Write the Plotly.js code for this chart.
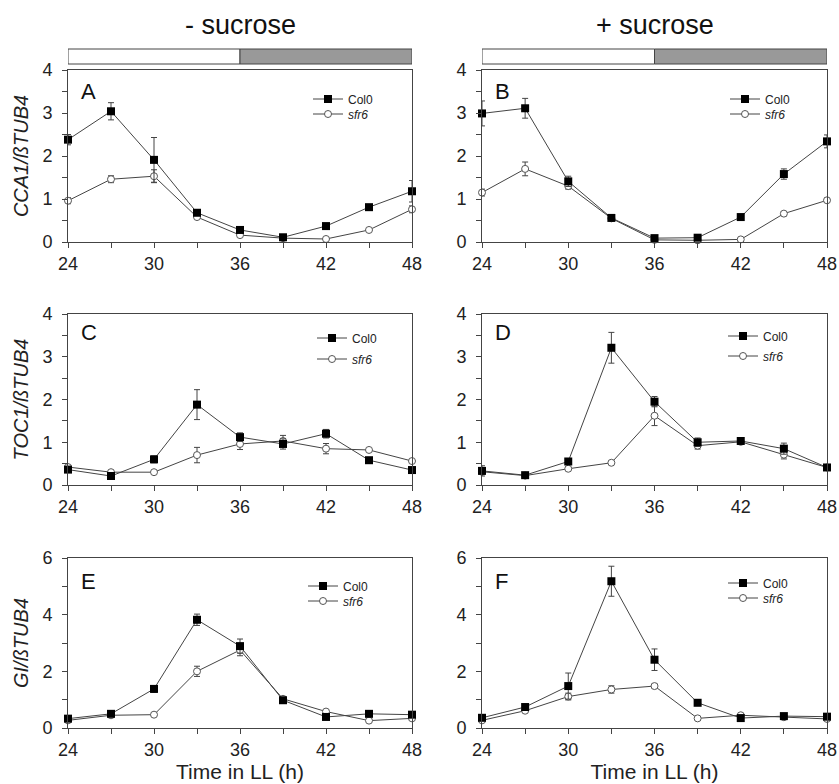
<!DOCTYPE html>
<html><head><meta charset="utf-8">
<script src="https://cdn.plot.ly/plotly-3.0.1.min.js"></script>
<style>html,body{margin:0;padding:0;background:#fff}</style>
</head><body><div id="chart" style="width:839px;height:784px"></div>
<script>
// ---------- data ----------
const time = [24, 27, 30, 33, 36, 39, 42, 45, 48];
const xTickLabels = ['24', '30', '36', '42', '48'];
const headings = ['- sucrose', '+ sucrose'];
const panelLabels = ['A', 'B', 'C', 'D', 'E', 'F'];
const yTitles = ['<i>CCA1/ßTUB4</i>', '', '<i>TOC1/ßTUB4</i>', '', '<i>GI/ßTUB4</i>', ''];
const xTitle = 'Time in LL (h)';
const seriesNames = ['Col0', '<i>sfr6</i>'];

// A: CCA1, - sucrose
const colA = [2.38, 3.04, 1.91, 0.68, 0.28, 0.11, 0.37, 0.81, 1.18];
const colAErr = [0.12, 0.20, 0.52, 0.05, 0.04, 0.03, 0.04, 0.04, 0.25];
const sfrA = [0.96, 1.46, 1.53, 0.58, 0.16, 0.09, 0.07, 0.28, 0.76];
const sfrAErr = [0.07, 0.08, 0.15, 0.04, 0.03, 0.02, 0.02, 0.03, 0.08];
// B: CCA1, + sucrose
const colB = [2.99, 3.11, 1.41, 0.56, 0.09, 0.10, 0.58, 1.58, 2.34];
const colBErr = [0.29, 0.23, 0.12, 0.04, 0.03, 0.03, 0.04, 0.12, 0.15];
const sfrB = [1.15, 1.70, 1.30, 0.55, 0.05, 0.04, 0.06, 0.66, 0.97];
const sfrBErr = [0.08, 0.16, 0.07, 0.03, 0.02, 0.02, 0.02, 0.05, 0.05];
// C: TOC1, - sucrose
const colC = [0.36, 0.21, 0.60, 1.88, 1.12, 0.96, 1.20, 0.58, 0.35];
const colCErr = [0.06, 0.04, 0.08, 0.35, 0.10, 0.12, 0.10, 0.04, 0.04];
const sfrC = [0.42, 0.30, 0.30, 0.70, 0.96, 1.03, 0.85, 0.82, 0.56];
const sfrCErr = [0.04, 0.03, 0.03, 0.18, 0.13, 0.13, 0.12, 0.03, 0.04];
// D: TOC1, + sucrose
const colD = [0.33, 0.23, 0.55, 3.21, 1.95, 1.00, 1.03, 0.85, 0.41];
const colDErr = [0.12, 0.03, 0.05, 0.36, 0.12, 0.10, 0.07, 0.13, 0.04];
const sfrD = [0.31, 0.22, 0.38, 0.52, 1.62, 0.92, 1.01, 0.71, 0.41];
const sfrDErr = [0.03, 0.03, 0.03, 0.03, 0.23, 0.08, 0.04, 0.10, 0.03];
// E: GI, - sucrose
const colE = [0.33, 0.50, 1.38, 3.82, 2.89, 0.98, 0.39, 0.50, 0.47];
const colEErr = [0.05, 0.05, 0.12, 0.20, 0.25, 0.06, 0.05, 0.05, 0.05];
const sfrE = [0.27, 0.45, 0.47, 2.00, 2.75, 1.03, 0.58, 0.26, 0.34];
const sfrEErr = [0.03, 0.04, 0.04, 0.18, 0.20, 0.06, 0.05, 0.04, 0.04];
// F: GI, + sucrose
const colF = [0.36, 0.74, 1.48, 5.18, 2.41, 0.89, 0.35, 0.42, 0.40];
const colFErr = [0.05, 0.07, 0.46, 0.53, 0.38, 0.06, 0.05, 0.05, 0.05];
const sfrF = [0.27, 0.61, 1.11, 1.36, 1.48, 0.34, 0.45, 0.38, 0.32];
const sfrFErr = [0.03, 0.05, 0.12, 0.13, 0.07, 0.03, 0.04, 0.03, 0.03];

// light / dark phases of the subjective day (bar above top row)
const phaseStarts = [24, 36];
const phaseEnds = [36, 48];

const yMax = [4, 4, 4, 4, 6, 6];
const yDtick = [1, 1, 1, 1, 2, 2];

const panels = [
  [colA, colAErr, sfrA, sfrAErr],
  [colB, colBErr, sfrB, sfrBErr],
  [colC, colCErr, sfrC, sfrCErr],
  [colD, colDErr, sfrD, sfrDErr],
  [colE, colEErr, sfrE, sfrEErr],
  [colF, colFErr, sfrF, sfrFErr]
];

// ---------- layout helpers ----------
const W = 839, H = 784;
const fx = p => p / W;
const fy = p => 1 - p / H;
const colsPx = [[68, 412], [482, 827]];
const rowsPx = [[70, 242], [314, 485], [558, 728]];
const legendX = [245, 248, 249, 246, 240, 246];
const legendY = [[29, 44], [29, 44], [24, 45], [22, 42], [28, 43], [25, 40]];
const letterTop = [12, 12, 9, 9, 14, 14];

const FONT = 'Liberation Sans, Arial, Helvetica, sans-serif';
const AX = '#444';

const traces = [];
const layout = {
  width: W, height: H,
  margin: {l: 0, r: 0, t: 0, b: 0},
  paper_bgcolor: '#fff', plot_bgcolor: '#fff',
  font: {family: FONT, color: '#222'},
  showlegend: true,
  annotations: [],
  shapes: []
};

panels.forEach((p, i) => {
  const n = i === 0 ? '' : String(i + 1);
  const r = Math.floor(i / 2), c = i % 2;
  const xa = 'x' + n, ya = 'y' + n;
  const [col, colErr, sfr, sfrErr] = p;

  // sfr6 first so Col0 is on top
  const series = [[sfr, sfrErr, 1], [col, colErr, 0]];
  series.forEach(([vals, errs, s]) => {
    const k = i * 2 + s;
    const lid = 'legend' + (k === 0 ? '' : String(k + 1));
    traces.push({
      type: 'scatter', mode: 'lines+markers',
      x: time, y: vals, xaxis: xa, yaxis: ya,
      name: seriesNames[s], legend: lid,
      cliponaxis: false,
      line: {color: AX, width: 1},
      marker: s === 0
        ? {symbol: 'square', size: 8, color: '#000', line: {color: '#000', width: 0}}
        : {symbol: 'circle', size: 7, color: '#fff', line: {color: '#555', width: 1}},
      error_y: {type: 'data', array: errs, visible: true, color: AX, thickness: 1, width: 3}
    });
    layout[lid] = {
      x: fx(colsPx[c][0] + legendX[i] - 5), xanchor: 'left',
      y: fy(rowsPx[r][0] + legendY[i][s]), yanchor: 'middle',
      bgcolor: 'rgba(0,0,0,0)', borderwidth: 0,
      font: {family: FONT, size: 12, color: '#222'},
      itemwidth: 30
    };
  });

  layout['xaxis' + n] = {
    domain: [fx(colsPx[c][0]), fx(colsPx[c][1])],
    anchor: ya, range: [24, 48],
    tickmode: 'array', tickvals: xTickLabels.map(Number), ticktext: xTickLabels,
    ticks: 'outside', ticklen: 5, tickcolor: AX, tickwidth: 1,
    minor: {tick0: 24, dtick: 3, ticks: 'outside', ticklen: 5, tickcolor: AX, tickwidth: 1},
    showline: true, linecolor: AX, linewidth: 1, mirror: true,
    showgrid: false, zeroline: false,
    tickfont: {family: FONT, size: 18, color: '#222'},
    title: r === 2 ? {text: xTitle, font: {family: FONT, size: 21, color: '#222'}, standoff: 3} : {text: ''}
  };
  layout['yaxis' + n] = {
    domain: [fy(rowsPx[r][1]), fy(rowsPx[r][0])],
    anchor: xa, range: [0, yMax[i]],
    dtick: yDtick[i], tick0: 0,
    ticks: 'outside', ticklen: 5, tickcolor: AX, tickwidth: 1,
    minor: {dtick: yDtick[i] / 2, ticks: 'outside', ticklen: 5, tickcolor: AX, tickwidth: 1},
    showline: true, linecolor: AX, linewidth: 1, mirror: true,
    showgrid: false, zeroline: false,
    ticklabelstandoff: 6,
    tickfont: {family: FONT, size: 18, color: '#222'},
    title: {text: yTitles[i], font: {family: FONT, size: 20, color: '#222'}, standoff: 8}
  };

  const h = rowsPx[r][1] - rowsPx[r][0];
  layout.annotations.push({
    xref: xa + ' domain', yref: ya + ' domain',
    x: 11 / (colsPx[c][1] - colsPx[c][0]), y: 1 - (letterTop[i] - 5) / h,
    xanchor: 'left', yanchor: 'top', showarrow: false,
    text: panelLabels[i], font: {family: FONT, size: 22, color: '#111'}
  });

  if (r === 0) {
    phaseStarts.forEach((s0, j) => {
      layout.shapes.push({
        type: 'rect', xref: xa, yref: 'paper',
        x0: s0, x1: phaseEnds[j], y0: fy(64), y1: fy(49),
        fillcolor: j === 0 ? '#fff' : '#999', line: {color: AX, width: 1}
      });
    });
    layout.annotations.push({
      xref: 'paper', yref: 'paper',
      x: fx((colsPx[c][0] + colsPx[c][1]) / 2), y: fy(24.5),
      xanchor: 'center', yanchor: 'middle', showarrow: false,
      text: headings[c], font: {family: FONT, size: 27, color: '#111'}
    });
  }
});

Plotly.newPlot('chart', traces, layout, {staticPlot: true, displayModeBar: false});
</script>
</body></html>
